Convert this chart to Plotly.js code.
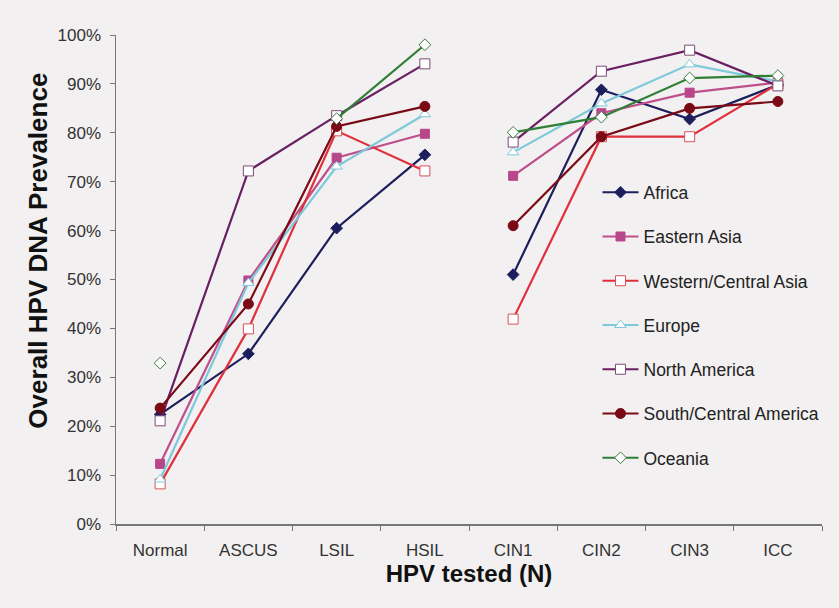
<!DOCTYPE html>
<html>
<head>
<meta charset="utf-8">
<script src="https://cdn.plot.ly/plotly-3.0.1.min.js"></script>
<style>
  html, body { margin: 0; padding: 0; background: #f2f0f0; }
  #chart { width: 839px; height: 608px; }
</style>
</head>
<body>
<div id="chart"></div>
<script>
// Cytology grades and histology grades are plotted as two separate runs
const cytologyLabels = ['Normal', 'ASCUS', 'LSIL', 'HSIL'];
const histologyLabels = ['CIN1', 'CIN2', 'CIN3', 'ICC'];

// Overall HPV DNA prevalence (%), order: Normal, ASCUS, LSIL, HSIL, CIN1, CIN2, CIN3, ICC
const africa          = [22.4, 34.8, 60.5, 75.5, 51.0, 88.8, 82.8, 89.8];
const easternAsia     = [12.3, 49.8, 74.9, 79.8, 71.2, 84.0, 88.2, 90.3];
const westernCentralAsia = [8.2, 39.9, 80.4, 72.2, 41.9, 79.2, 79.2, 90.0];
const europe          = [9.1, 49.3, 73.1, 83.8, 76.0, 86.0, 94.0, 90.5];
const northAmerica    = [21.1, 72.2, 83.5, 94.1, 78.1, 92.6, 96.9, 89.6];
const southCentralAmerica = [23.7, 45.0, 81.3, 85.4, 61.0, 79.2, 85.0, 86.4];
const oceania         = [32.9, null, 82.9, 98.0, 80.1, 83.2, 91.2, 91.7];

const regionNames = ['Africa', 'Eastern Asia', 'Western/Central Asia', 'Europe',
                     'North America', 'South/Central America', 'Oceania'];
const regionValues = [africa, easternAsia, westernCentralAsia, europe,
                      northAmerica, southCentralAmerica, oceania];

const styles = [
  { line: '#1c1f5c', symbol: 'diamond', fill: '#1c1f5c', edge: '#1c1f5c', size: 9 },
  { line: '#bf4f8a', symbol: 'square',  fill: '#b8468a', edge: '#b8468a', size: 9 },
  { line: '#e0303c', symbol: 'square',  fill: '#ffffff', edge: '#d8505a', size: 10 },
  { line: '#7ec9da', symbol: 'triangle-up', fill: '#ffffff', edge: '#7ec9da', size: 10 },
  { line: '#6a1f62', symbol: 'square',  fill: '#ffffff', edge: '#7a4a78', size: 10 },
  { line: '#7a0a16', symbol: 'circle',  fill: '#7a0a16', edge: '#7a0a16', size: 10 },
  { line: '#2f7f35', symbol: 'diamond', fill: '#ffffff', edge: '#3a7a40', size: 9 }
];

// Insert a gap between the cytology run and the histology run
const xs = cytologyLabels.concat([null], histologyLabels);
const traces = regionNames.map((name, i) => {
  const v = regionValues[i];
  const s = styles[i];
  return {
    type: 'scatter',
    mode: 'lines+markers',
    name: name,
    legendgroup: name,
    x: xs,
    y: v.slice(0, 4).concat([null], v.slice(4)),
    connectgaps: false,
    line: { color: s.line, width: 2.2 },
    marker: { symbol: s.symbol, size: s.size, color: s.fill,
              line: { color: s.edge, width: 1 } }
  };
});

const layout = {
  width: 839,
  height: 608,
  paper_bgcolor: '#f2f0f0',
  plot_bgcolor: '#f2f0f0',
  margin: { l: 116, r: 17, t: 35, b: 84 },
  font: { family: 'Liberation Sans, Arial, sans-serif', color: '#222' },
  showlegend: true,
  legend: {
    x: 0.682, y: 0.715, xanchor: 'left', yanchor: 'top',
    bgcolor: 'rgba(0,0,0,0)',
    font: { size: 17.5, color: '#222' },
    tracegroupgap: 18.5,
    itemwidth: 36
  },
  xaxis: {
    type: 'category',
    categoryorder: 'array',
    categoryarray: cytologyLabels.concat(histologyLabels),
    range: [-0.5, 7.5],
    tickson: 'boundaries',
    ticks: 'outside',
    ticklen: 5,
    tickcolor: '#777',
    ticklabelstandoff: 10,
    showline: true,
    linecolor: '#777',
    linewidth: 1.5,
    showgrid: false,
    zeroline: false,
    tickfont: { size: 17, color: '#333' },
    title: { text: '<b>HPV tested (N)</b>', font: { size: 24, color: '#111' }, standoff: 6 }
  },
  yaxis: {
    range: [0, 100],
    dtick: 10,
    ticksuffix: '%',
    ticks: 'outside',
    ticklen: 5,
    tickcolor: '#777',
    ticklabelstandoff: 5,
    showline: true,
    linecolor: '#777',
    linewidth: 1.5,
    showgrid: false,
    zeroline: false,
    tickfont: { size: 17, color: '#333' }
  },
  annotations: [{
    text: '<b>Overall HPV DNA Prevalence</b>',
    textangle: -90,
    xref: 'paper', yref: 'paper',
    x: -0.1105, y: 0.559,
    xanchor: 'center', yanchor: 'middle',
    showarrow: false,
    font: { size: 26, color: '#111' }
  }]
};

Plotly.newPlot('chart', traces, layout, { displayModeBar: false, staticPlot: true });
</script>
</body>
</html>
